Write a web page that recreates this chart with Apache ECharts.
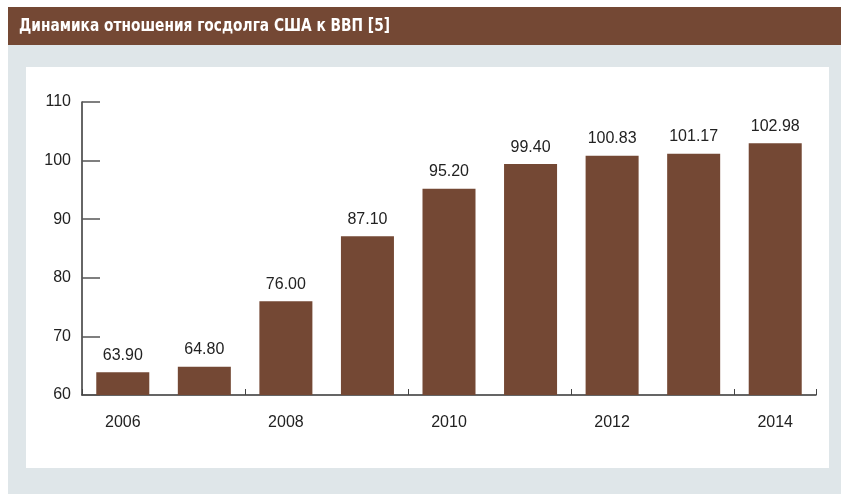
<!DOCTYPE html>
<html><head><meta charset="utf-8">
<script src="https://cdn.jsdelivr.net/npm/echarts@6/dist/echarts.min.js"></script>
<style>html,body{margin:0;padding:0;background:#fff}#c{width:841px;height:494px}</style>
</head><body><div id="c"></div>
<script>
const titleText = 'Динамика отношения госдолга США к ВВП [5]';
const years = ['2006','2007','2008','2009','2010','2011','2012','2013','2014'];
const debtToGdp = [63.90, 64.80, 76.00, 87.10, 95.20, 99.40, 100.83, 101.17, 102.98];
const yTicks = {min: 60, max: 110, interval: 10};

const brown = '#744834';
const font = '"Liberation Sans", Arial, Helvetica, sans-serif';
const chart = echarts.init(document.getElementById('c'));
chart.setOption({
  animation: false,
  graphic: [
    {type:'rect', shape:{x:8,y:45,width:833,height:449}, style:{fill:'#dfe6e9'}, z:-10},
    {type:'rect', shape:{x:8,y:7,width:833,height:38}, style:{fill:brown}, z:-10},
    {type:'rect', shape:{x:26,y:67,width:803,height:401}, style:{fill:'#ffffff'}, z:-10},
    {type:'text', x:19, y:26, scaleX:0.85, style:{text:titleText, fill:'#ffffff', textVerticalAlign:'middle', verticalAlign:'middle',
      font:'bold 18px "DejaVu Sans Condensed", "DejaVu Sans", sans-serif'}, z:5}
  ],
  grid: {left:82, right:25, top:102, bottom:99, containLabel:false},
  xAxis: {
    type:'category', data: years,
    axisLine:{show:true, lineStyle:{color:'#333', width:1.5}},
    axisTick:{show:true, inside:true, length:6, lineStyle:{color:'#444'}},
    axisLabel:{interval:1, margin:20, color:'#222', fontSize:16, fontFamily:font}
  },
  yAxis: {
    type:'value', min:yTicks.min, max:yTicks.max, interval:yTicks.interval,
    splitLine:{show:false},
    axisLine:{show:true, lineStyle:{color:'#333', width:1.5}},
    axisTick:{show:true, inside:true, length:18, lineStyle:{color:'#555', width:1.5}},
    axisLabel:{margin:11, color:'#222', fontSize:16, fontFamily:font}
  },
  series: [{
    type:'bar', data: debtToGdp, barCategoryGap:'35%',
    itemStyle:{color:brown},
    label:{show:true, position:'top', distance:9, color:'#222', fontSize:16, fontFamily:font,
      formatter: p => p.value.toFixed(2)}
  }]
});
</script></body></html>
